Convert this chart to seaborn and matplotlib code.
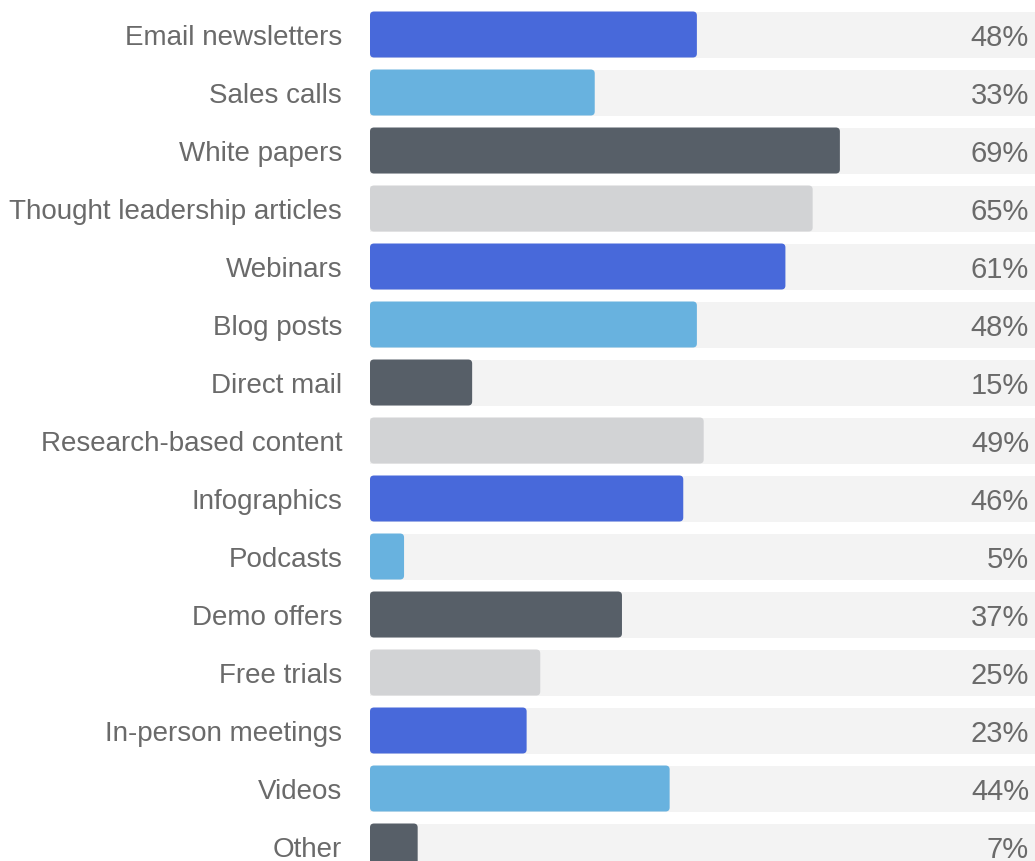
import matplotlib
matplotlib.use("Agg")
import matplotlib.pyplot as plt
import matplotlib.transforms as mtransforms
from matplotlib.patches import FancyBboxPatch
import seaborn as sns
import pandas as pd

# Content formats and share of respondents (%)
categories = [
    "Email newsletters", "Sales calls", "White papers", "Thought leadership articles",
    "Webinars", "Blog posts", "Direct mail", "Research-based content", "Infographics",
    "Podcasts", "Demo offers", "Free trials", "In-person meetings", "Videos", "Other",
]
values = [48, 33, 69, 65, 61, 48, 15, 49, 46, 5, 37, 25, 23, 44, 7]
value_labels = [f"{v}%" for v in values]

palette_cycle = ["#4869DA", "#68B2DF", "#575F68", "#D2D3D5"]
track_color = "#F3F3F3"
text_color = "#6a6a6a"

sns.set_theme(style="white")
plt.rcParams["font.family"] = ["Liberation Sans", "DejaVu Sans"]

W, H = 1035, 862
fig = plt.figure(figsize=(W / 100, H / 100), dpi=100)

left_px = 370
px_per_unit = 6.81
row_px = 58
first_center_px = 35.5
bar_px = 46
label_size = 20
value_size = 21

ax = fig.add_axes([left_px / W, 0, (W - left_px) / W, 1])

df = pd.DataFrame({"category": categories, "value": values})
df["track"] = 100
colors = [palette_cycle[i % len(palette_cycle)] for i in range(len(categories))]

bar_h = bar_px / row_px
sns.barplot(data=df, y="category", x="track", color=track_color, width=bar_h,
            ax=ax, orient="h", saturation=1, edgecolor="none")
n_track = len(ax.patches)
sns.barplot(data=df, y="category", x="value", hue="category", palette=colors,
            width=bar_h, ax=ax, orient="h", saturation=1, legend=False, edgecolor="none")

# Replace value bars with rounded versions
xmax = (W - left_px) / px_per_unit
ymin = -first_center_px / row_px
ymax = (H - first_center_px) / row_px
radius_px = 4
aspect = px_per_unit / row_px
for p in list(ax.patches[n_track:]):
    x0, y0 = p.get_x(), p.get_y()
    w, h = p.get_width(), p.get_height()
    fc = p.get_facecolor()
    p.remove()
    ax.add_patch(FancyBboxPatch(
        (x0, y0), w, h,
        boxstyle=f"round,pad=0,rounding_size={radius_px / px_per_unit}",
        mutation_aspect=aspect, facecolor=fc, edgecolor="none", zorder=3))

ax.set_xlim(0, xmax)
ax.set_ylim(ymax, ymin)
ax.set_xlabel("")
ax.set_ylabel("")
ax.set_xticks([])
ax.set_yticks(range(len(categories)))
ax.set_yticklabels(categories, fontsize=label_size, color=text_color)
ax.tick_params(axis="y", length=0, pad=20)

# Place category labels on a baseline so capitals sit centred on each bar
cap_half_px = 0.716 * label_size * 100 / 72 / 2
drop = mtransforms.ScaledTranslation(0, -cap_half_px / 100, fig.dpi_scale_trans)
for t in ax.get_yticklabels():
    t.set_verticalalignment("baseline")
    t.set_transform(t.get_transform() + drop)
for s in ax.spines.values():
    s.set_visible(False)

# Percent labels at the right edge
label_x = xmax - 6 / px_per_unit
val_half = 0.716 * value_size * 100 / 72 / 2 / row_px
for i, lab in enumerate(value_labels):
    ax.text(label_x, i + val_half, lab, ha="right", va="baseline", fontsize=value_size,
            color=text_color, zorder=4)

fig.savefig("out.png", dpi=100)
